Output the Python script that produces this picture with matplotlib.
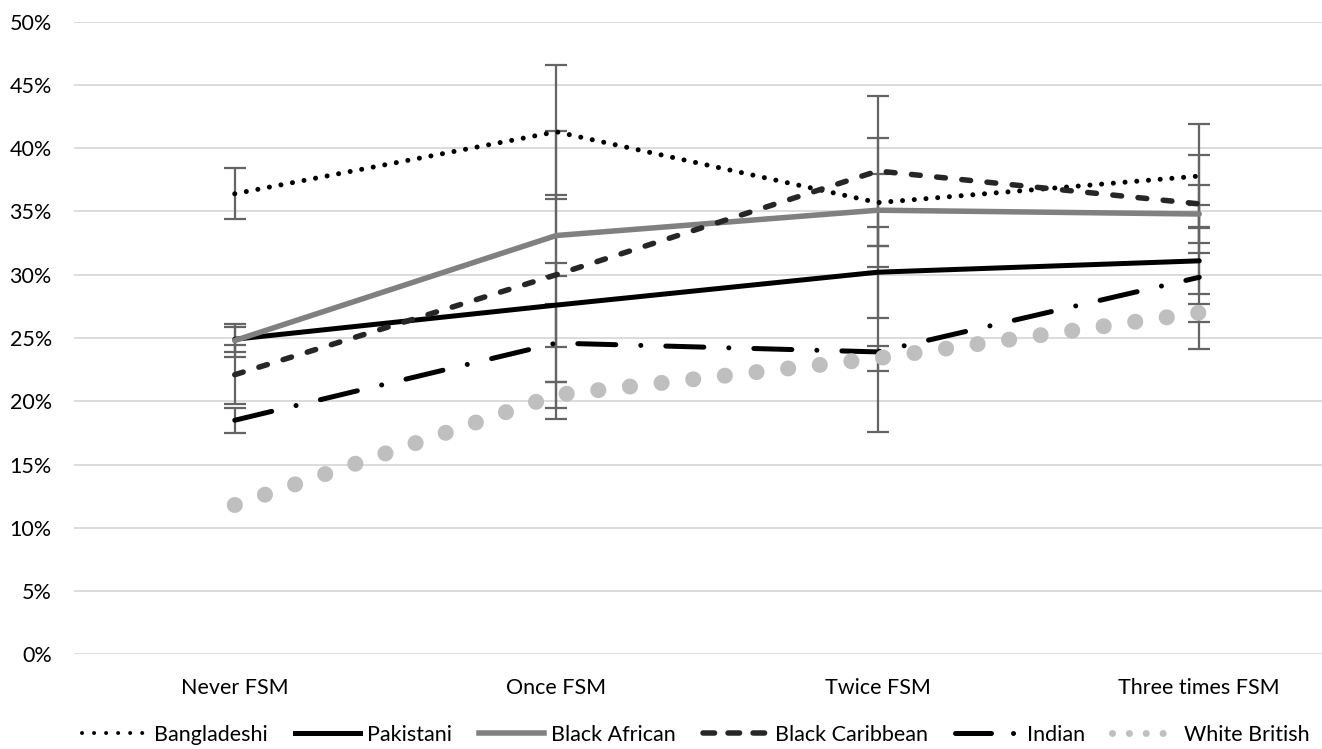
import matplotlib
matplotlib.use('Agg')
import matplotlib.pyplot as plt
from matplotlib.lines import Line2D
from matplotlib.ticker import PercentFormatter

plt.rcParams['font.family'] = ['Lato', 'DejaVu Sans']

categories = ['Never FSM', 'Once FSM', 'Twice FSM', 'Three times FSM']

bangladeshi = [36.4, 41.3, 35.7, 37.8]
bangladeshi_err = [2.0, 5.3, 5.1, 4.1]
pakistani = [24.9, 27.6, 30.2, 31.1]
pakistani_err = [1.0, 3.3, 3.6, 2.65]
black_african = [24.8, 33.1, 35.1, 34.8]
black_african_err = [1.3, 3.2, 2.85, 2.3]
black_caribbean = [22.1, 30.0, 38.2, 35.6]
black_caribbean_err = [2.35, 11.4, 5.95, 3.9]
indian = [18.5, 24.6, 23.9, 29.8]
indian_err = [1.0, 3.1, 6.35, 5.7]
white_british = [11.8, 20.5, 23.4, 27.0]
white_british_err = [0.0, 1.0, 1.0, 0.7]   # first one hidden under the marker

# pixel -> point at dpi 100
px = 0.72

series = [
    ('Bangladeshi', bangladeshi, bangladeshi_err, 'black', 5 * px, (0, (0.01, 2.34))),
    ('Pakistani', pakistani, pakistani_err, 'black', 5 * px, '-'),
    ('Black African', black_african, black_african_err, '#808080', 5.5 * px, '-'),
    ('Black Caribbean', black_caribbean, black_caribbean_err, '#262626', 5.5 * px, (0, (1.6, 3.0))),
    ('Indian', indian, indian_err, 'black', 5 * px, (0, (7.6, 5.0, 0.01, 5.0))),
    ('White British', white_british, white_british_err, '#BFBFBF', 16 * px, (0, (0.01, 1.98))),
]

fig = plt.figure(figsize=(13.22, 7.49), dpi=100)
ax = fig.add_axes([74 / 1322, 94.7 / 749, 1286 / 1322, 632.6 / 749])

x = list(range(len(categories)))
for name, vals, err, col, lw, ls in series:
    ax.errorbar(x, [v / 100 for v in vals], yerr=[e / 100 for e in err], fmt='none',
                errorevery=[e > 0 for e in err],
                ecolor='#646464', elinewidth=1.6, capsize=8, capthick=1.6, zorder=2)
    ax.plot(x, [v / 100 for v in vals], color=col, lw=lw, linestyle=ls,
            dash_capstyle='round', solid_capstyle='round', zorder=4)

ax.set_xlim(-0.5, 3.5)
ax.set_ylim(0, 0.5)
ax.set_yticks([i / 100 for i in range(0, 51, 5)])
ax.yaxis.set_major_formatter(PercentFormatter(1.0, decimals=0))
ax.set_xticks(x)
ax.set_xticklabels(categories)
ax.tick_params(axis='both', length=0, labelsize=15.5, colors='black')
ax.tick_params(axis='y', pad=16)
ax.tick_params(axis='x', pad=17)
ax.grid(axis='y', color='#D9D9D9', lw=1.3)
ax.set_axisbelow(True)
for s in ax.spines.values():
    s.set_visible(False)

# legend samples
handles = [
    Line2D([], [], color='black', lw=4 * px, linestyle=(0, (0.01, 3.0)), dash_capstyle='round'),
    Line2D([], [], color='black', lw=5 * px),
    Line2D([], [], color='#808080', lw=5.5 * px),
    Line2D([], [], color='#262626', lw=5.5 * px, linestyle=(0, (2.1, 2.45)), dash_capstyle='round'),
    Line2D([], [], color='black', lw=5 * px, linestyle=(0, (7.2, 4.4, 0.01, 10)), dash_capstyle='round'),
    Line2D([], [], color='#BFBFBF', lw=7 * px, linestyle=(0, (0.01, 2.4)), dash_capstyle='round'),
]
fig.legend(handles, [s[0] for s in series], loc='center', bbox_to_anchor=(0.5265, 1 - 735 / 749),
           ncol=6, frameon=False, fontsize=15.5, handlelength=3.0, handletextpad=0.35,
           columnspacing=1.25, borderpad=0.2)

fig.savefig('out.png', dpi=100)
